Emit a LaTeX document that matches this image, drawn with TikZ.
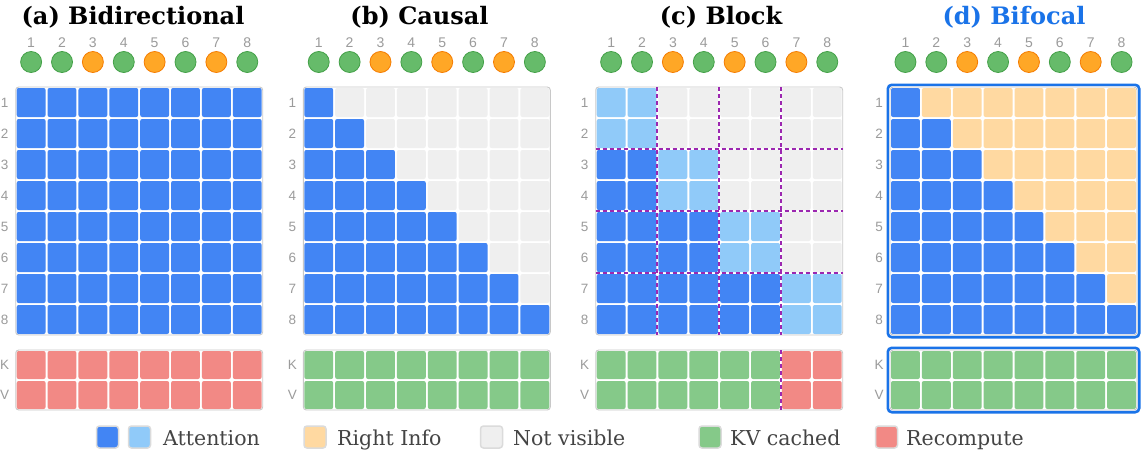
\documentclass[tikz,border=0pt]{standalone}
\usepackage{fontspec}
\setmainfont{DejaVu Serif}
\newfontfamily\labfont{Liberation Sans}
\definecolor{ablue}{RGB}{66,133,244}
\definecolor{lblue}{RGB}{144,202,249}
\definecolor{ngray}{RGB}{239,239,239}
\definecolor{rinfo}{RGB}{255,217,161}
\definecolor{kvgreen}{RGB}{133,201,137}
\definecolor{kvred}{RGB}{242,137,133}
\definecolor{cgreen}{RGB}{102,187,106}
\definecolor{cgreenedge}{RGB}{67,160,71}
\definecolor{corange}{RGB}{255,167,38}
\definecolor{corangeedge}{RGB}{245,124,0}
\definecolor{bpurple}{RGB}{156,39,176}
\definecolor{bifo}{RGB}{26,115,232}
\definecolor{labgray}{RGB}{155,155,155}
\definecolor{legtext}{RGB}{68,68,68}
\definecolor{outl}{RGB}{200,200,200}
\def\cw{30.875}
\def\ch{31}
\def\gy{87}
\def\ky{350}
\def\kh{30}
\newcommand{\mcell}[4]{\fill[#4, rounded corners=2pt] ({#1+(#3-1)*\cw+1},{\gy+(#2-1)*\ch+1}) rectangle ({#1+#3*\cw-1},{\gy+#2*\ch-1});}
\newcommand{\kcell}[4]{\fill[#4, rounded corners=2pt] ({#1+(#3-1)*\cw+1},{\ky+(#2-1)*\kh+1}) rectangle ({#1+#3*\cw-1},{\ky+#2*\kh-1});}
\newcommand{\panelcommon}[2]{%
  \foreach \j in {1,...,8} {
    \ifodd\j \ifnum\j>1 \def\cc{corange}\def\ce{corangeedge}\else\def\cc{cgreen}\def\ce{cgreenedge}\fi
    \else \def\cc{cgreen}\def\ce{cgreenedge}\fi
    \node[tok, fill=\cc, draw=\ce] (#1-c\j) at ({#2+(\j-0.5)*\cw},62) {};
    \node[numlab] (#1-n\j) at ({#2+(\j-0.5)*\cw},43) {\j};
    \node[rowlab] (#1-r\j) at ({#2-11},{\gy+(\j-0.5)*\ch}) {\j};
  }
  \node[rowlab] (#1-k) at ({#2-11},365) {K};
  \node[rowlab] (#1-v) at ({#2-11},395) {V};
}
\newcommand{\outlines}[1]{%
  \draw[outl, line width=0.9pt, rounded corners=3pt] (#1,\gy) rectangle ({#1+8*\cw},{\gy+8*\ch});
  \draw[outl, line width=0.9pt, rounded corners=3pt] (#1,\ky) rectangle ({#1+8*\cw},{\ky+2*\kh});
}
\begin{document}
\begin{tikzpicture}[x=1pt,y=-1pt,
  tok/.style={circle, minimum size=21pt, inner sep=0pt, line width=0.8pt},
  numlab/.style={font=\labfont\fontsize{14}{16}\selectfont, text=labgray, inner sep=0pt},
  rowlab/.style={font=\labfont\fontsize{13.5}{15}\selectfont, text=labgray, inner sep=0pt},
  ttl/.style={font=\fontsize{24}{29}\selectfont\bfseries, anchor=base, inner sep=0pt},
  legsq/.style={minimum size=22pt, inner sep=0pt, rounded corners=3pt, draw=black!14, line width=1.5pt},
  legtxt/.style={font=\fontsize{20.5}{24}\selectfont, text=legtext, anchor=base west, inner sep=0pt},
  blockline/.style={bpurple, line width=2pt, dash pattern=on 4pt off 3pt}]
\useasboundingbox (0,0) rectangle (1142,455);
\fill[white] (0,0) rectangle (1142,455);

% titles
\node[ttl] (ta) at (133,24) {(a) Bidirectional};
\node[ttl] (tb) at (419.5,24) {(b) Causal};
\node[ttl] (tc) at (721,24) {(c) Block};
\node[ttl, text=bifo] (td) at (1014,24) {(d) Bifocal};

% panel a
\def\xa{15.7}
\panelcommon{a}{\xa}
\foreach \i in {1,...,8} \foreach \j in {1,...,8} {\mcell{\xa}{\i}{\j}{ablue}}
\foreach \r in {1,2} \foreach \j in {1,...,8} {\kcell{\xa}{\r}{\j}{kvred}}
\outlines{\xa}

% panel b
\def\xb{303.3}
\panelcommon{b}{\xb}
\foreach \i in {1,...,8} \foreach \j in {1,...,8} {
  \ifnum\j>\i \def\cc{ngray}\else\def\cc{ablue}\fi
  \mcell{\xb}{\i}{\j}{\cc}}
\foreach \r in {1,2} \foreach \j in {1,...,8} {\kcell{\xb}{\r}{\j}{kvgreen}}
\outlines{\xb}

% panel c
\def\xc{595.7}
\panelcommon{c}{\xc}
\foreach \i in {1,...,8} \foreach \j in {1,...,8} {
  \pgfmathtruncatemacro\bi{(\i+1)/2}
  \pgfmathtruncatemacro\bj{(\j+1)/2}
  \ifnum\bj>\bi \def\cc{ngray}\else\ifnum\bj=\bi \def\cc{lblue}\else\def\cc{ablue}\fi\fi
  \mcell{\xc}{\i}{\j}{\cc}}
\foreach \r in {1,2} \foreach \j in {1,...,8} {
  \ifnum\j>6 \def\cc{kvred}\else\def\cc{kvgreen}\fi
  \kcell{\xc}{\r}{\j}{\cc}}
\outlines{\xc}
\foreach \k/\vx in {2/657,4/719,6/781} {
  \draw[blockline] (\vx,\gy) -- (\vx,{\gy+8*\ch});
  \draw[blockline] (\xc,{\gy+\k*\ch}) -- ({\xc+8*\cw},{\gy+\k*\ch});
}
\draw[blockline] (781,\ky) -- (781,{\ky+2*\kh});

% panel d
\def\xd{890}
\panelcommon{d}{\xd}
\foreach \i in {1,...,8} \foreach \j in {1,...,8} {
  \ifnum\j>\i \def\cc{rinfo}\else\def\cc{ablue}\fi
  \mcell{\xd}{\i}{\j}{\cc}}
\foreach \r in {1,2} \foreach \j in {1,...,8} {\kcell{\xd}{\r}{\j}{kvgreen}}
\outlines{\xd}
\draw[bifo, line width=2.6pt, rounded corners=4pt] ({\xd-2.2},{\gy-2.2}) rectangle ({\xd+8*\cw+2.2},{\gy+8*\ch+2.2});
\draw[bifo, line width=2.6pt, rounded corners=4pt] ({\xd-2.2},{\ky-2.2}) rectangle ({\xd+8*\cw+2.2},{\ky+2*\kh+2.2});

% legend
\node[legsq, fill=ablue] (lg1) at (107.5,437) {};
\node[legsq, fill=lblue] (lg2) at (139.5,437) {};
\node[legtxt] (lt1) at (163,445) {Attention};
\node[legsq, fill=rinfo] (lg3) at (315,437) {};
\node[legtxt] (lt2) at (337,445) {Right Info};
\node[legsq, fill=ngray] (lg4) at (491.5,437) {};
\node[legtxt] (lt3) at (513,445) {Not visible};
\node[legsq, fill=kvgreen] (lg5) at (710,437) {};
\node[legtxt] (lt4) at (730,445) {KV cached};
\node[legsq, fill=kvred] (lg6) at (886.5,437) {};
\node[legtxt] (lt5) at (906,445) {Recompute};
\end{tikzpicture}
\end{document}
